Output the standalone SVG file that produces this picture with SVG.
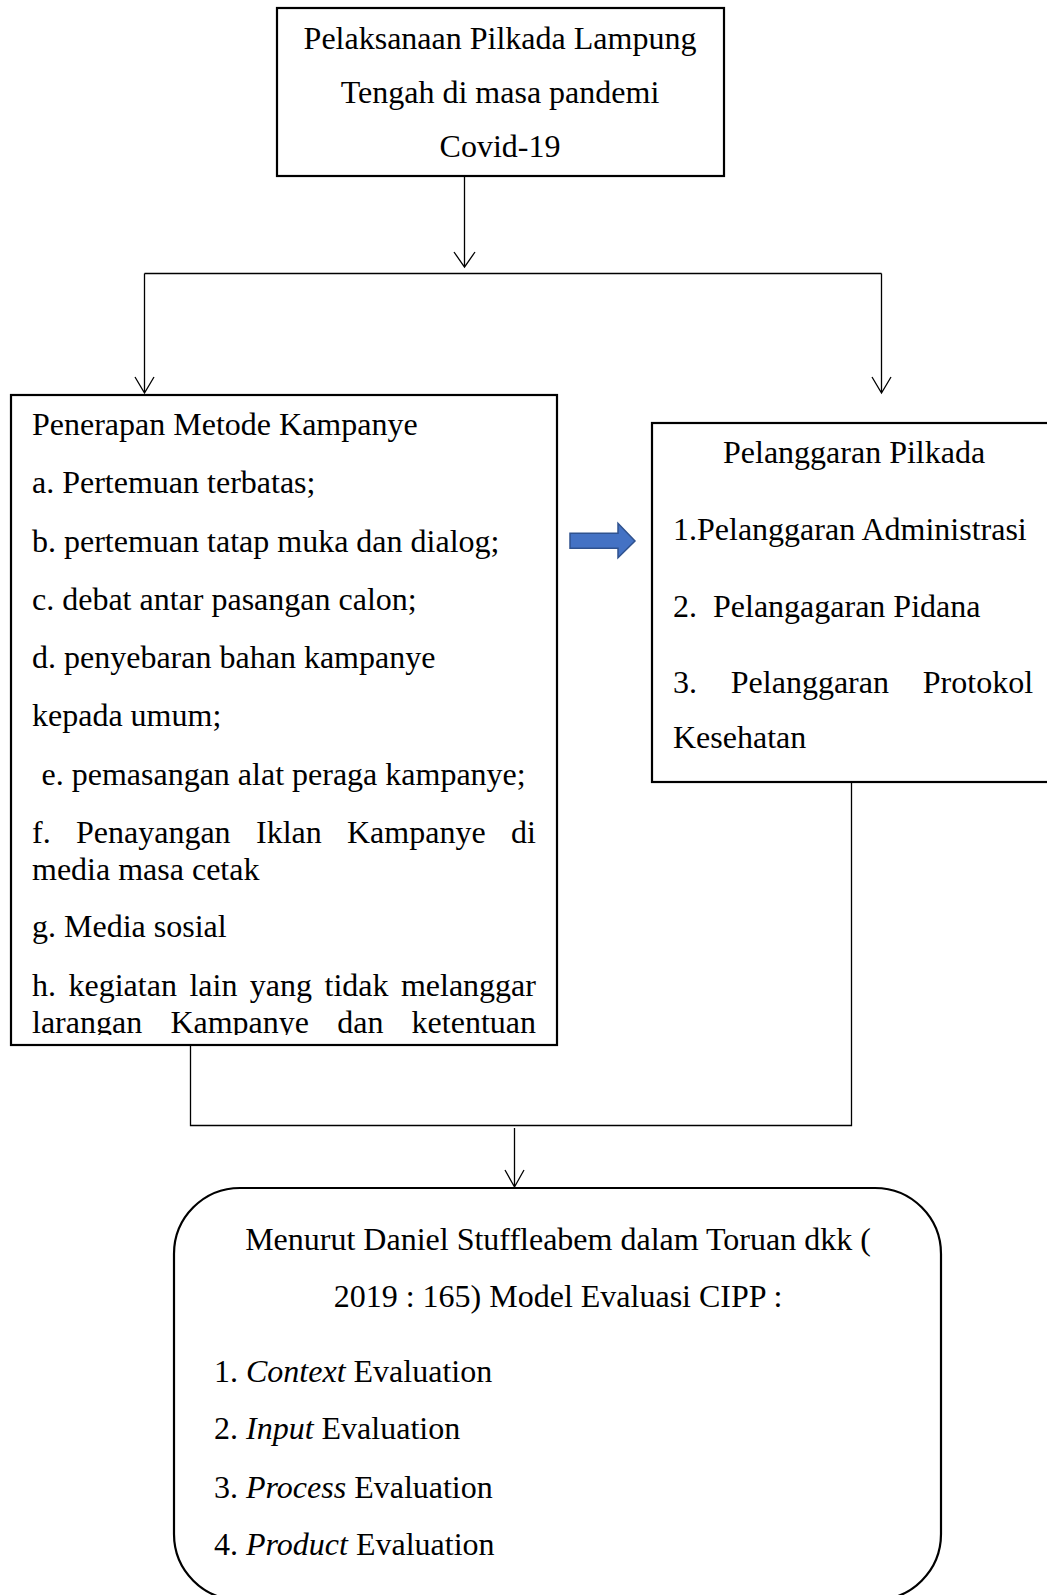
<svg xmlns="http://www.w3.org/2000/svg" width="1047" height="1595" viewBox="0 0 1047 1595">
<style>
text{font-family:"Liberation Serif","Times New Roman",serif;font-size:32px;fill:#000}
.box{fill:#fff;stroke:#000;stroke-width:2.2}
.conn{fill:none;stroke:#000;stroke-width:1.3}
.it{font-style:italic}
</style>
<defs>
<clipPath id="clipL"><rect x="12" y="396" width="544" height="639"/></clipPath>
</defs>
<rect width="1047" height="1595" fill="#fff"/>
<g id="connectors">
<path class="conn" d="M464.5 176V267M454 252L464.5 267L475 252"/>
<path class="conn" d="M144.5 273.5H881.5M144.5 273.5V393M135 377L144.5 393L154 377M881.5 273.5V393M872 377L881.5 393L891 377"/>
<path class="conn" d="M190.5 1045V1125.5H851.5V782M514.5 1128V1187M505 1170L514.5 1187L524 1170"/>
<path d="M570 533.3H618V523.3L635 541L618 557.7V548.3H570Z" fill="#4472C4" stroke="#2F528F" stroke-width="1.5"/>
</g>
<g id="node-top">
<rect class="box" x="277" y="8" width="447" height="168"/>
<text x="500" y="49" text-anchor="middle">Pelaksanaan Pilkada Lampung</text>
<text x="500" y="103" text-anchor="middle">Tengah di masa pandemi</text>
<text x="500" y="157" text-anchor="middle">Covid-19</text>
</g>
<g id="node-kampanye">
<rect class="box" x="11" y="395" width="546" height="650"/>
<g clip-path="url(#clipL)">
<text x="32" y="435">Penerapan Metode Kampanye</text>
<text x="32" y="493">a. Pertemuan terbatas;</text>
<text x="32" y="552">b. pertemuan tatap muka dan dialog;</text>
<text x="32" y="610">c. debat antar pasangan calon;</text>
<text x="32" y="668">d. penyebaran bahan kampanye</text>
<text x="32" y="726">kepada umum;</text>
<text x="41.5" y="785">e. pemasangan alat peraga kampanye;</text>
<text y="843"><tspan x="32">f.</tspan><tspan x="76">Penayangan</tspan><tspan x="256">Iklan</tspan><tspan x="347">Kampanye</tspan><tspan x="511">di</tspan></text>
<text x="32" y="880">media masa cetak</text>
<text x="32" y="937">g. Media sosial</text>
<text y="996"><tspan x="32">h.</tspan><tspan x="68.5">kegiatan</tspan><tspan x="189.4">lain</tspan><tspan x="249.8">yang</tspan><tspan x="324.5">tidak</tspan><tspan x="400.9">melanggar</tspan></text>
<text y="1033"><tspan x="32">larangan</tspan><tspan x="170.4">Kampanye</tspan><tspan x="337.2">dan</tspan><tspan x="411.6">ketentuan</tspan></text>
</g>
</g>
<g id="node-pelanggaran">
<rect class="box" x="652" y="423" width="420" height="359"/>
<text x="723" y="463">Pelanggaran Pilkada</text>
<text x="673" y="540">1.Pelanggaran Administrasi</text>
<text y="617"><tspan x="673">2.</tspan><tspan x="713">Pelangagaran Pidana</tspan></text>
<text y="693"><tspan x="673">3.</tspan><tspan x="730.8">Pelanggaran</tspan><tspan x="922.8">Protokol</tspan></text>
<text x="673" y="748">Kesehatan</text>
</g>
<g id="node-cipp">
<rect class="box" x="174" y="1188" width="767" height="412" rx="66" ry="66"/>
<text x="558" y="1250" text-anchor="middle">Menurut Daniel Stuffleabem dalam Toruan dkk (</text>
<text x="558" y="1307" text-anchor="middle">2019 : 165) Model Evaluasi CIPP :</text>
<text x="214" y="1382">1. <tspan class="it">Context</tspan> Evaluation</text>
<text x="214" y="1439">2. <tspan class="it">Input</tspan> Evaluation</text>
<text x="214" y="1498">3. <tspan class="it">Process</tspan> Evaluation</text>
<text x="214" y="1555">4. <tspan class="it">Product</tspan> Evaluation</text>
</g>
</svg>
